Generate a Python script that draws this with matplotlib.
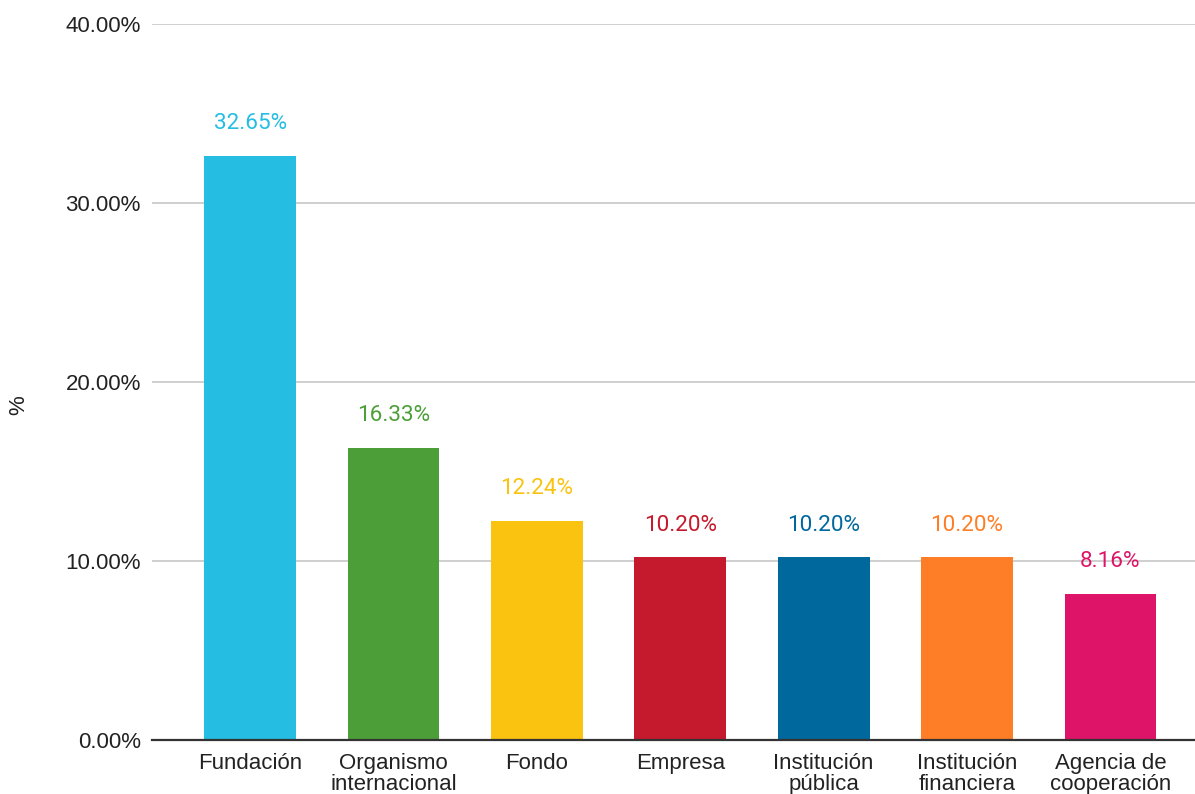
import matplotlib.pyplot as plt
from matplotlib.ticker import FuncFormatter

# categories and shares (%)
categorias = ["Fundación", "Organismo\ninternacional", "Fondo", "Empresa",
              "Institución\npública", "Institución\nfinanciera", "Agencia de\ncooperación"]
porcentajes = [32.65, 16.33, 12.24, 10.20, 10.20, 10.20, 8.16]
colores = ["#25bde2", "#4c9f38", "#fac30f", "#c51a2d", "#00689d", "#fd7e26", "#dd1467"]

fig = plt.figure(figsize=(11.95, 7.94), dpi=100)
ax = fig.add_axes([0.1272, 0.068, 0.8728, 0.9018])

x = list(range(len(categorias)))
bars = ax.bar(x, porcentajes, width=0.64, color=colores, zorder=3)

for xi, v, c in zip(x, porcentajes, colores):
    ax.annotate(f"{v:.2f}%", (xi, v), xytext=(0, 23), textcoords="offset points",
                ha="center", va="center", color=c, fontsize=16.2,
                family="Roboto", zorder=4)

ax.set_xlim(-0.684, 6.59)
ax.set_ylim(0, 40)
ax.set_yticks([0, 10, 20, 30, 40])
ax.yaxis.set_major_formatter(FuncFormatter(lambda v, p: f"{v:.2f}%"))
ax.grid(axis="y", color="#cccccc", lw=1.3, zorder=0)
ax.set_axisbelow(True)

for s in ["top", "right", "left"]:
    ax.spines[s].set_visible(False)
ax.spines["bottom"].set_color("#333333")
ax.spines["bottom"].set_linewidth(1.6)
ax.spines["bottom"].set_zorder(5)

ax.set_xticks(x)
ax.set_xticklabels(categorias, fontsize=16, family="Liberation Sans",
                   color="#222222", linespacing=1.02)
ax.tick_params(axis="x", length=0, pad=9)
ax.tick_params(axis="y", length=0, pad=8, labelsize=16, labelcolor="#222222")
for t in ax.get_yticklabels():
    t.set_family("Liberation Sans")

fig.text(0.016, 0.49, "%", rotation=90, ha="center", va="center",
         fontsize=16, family="Liberation Sans", color="#222222")

fig.savefig("out.png", dpi=100)
